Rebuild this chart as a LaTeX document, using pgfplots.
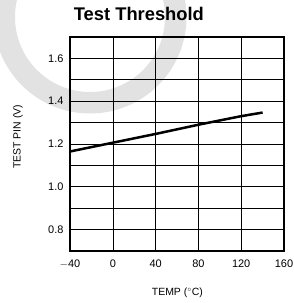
\documentclass[border=0pt]{standalone}
\usepackage{pgfplots}
\pgfplotsset{compat=1.18}
\usepackage{fontspec}
\setmainfont{Liberation Sans}
\begin{document}
\begin{tikzpicture}[x=1bp,y=1bp]
\path[use as bounding box] (0,0) rectangle (294,303);
% background watermark ring
\begin{scope}
\clip (0,0) rectangle (294,303);
\draw[color={rgb,255:red,226;green,226;blue,226}, line width=21.5bp] (90,286) circle[radius=85.75bp];
\end{scope}
\begin{axis}[
  at={(70bp,52bp)}, anchor=south west,
  scale only axis, width=214bp, height=214bp,
  xmin=-40, xmax=160, ymin=0.7, ymax=1.7,
  xtick={-40,0,40,120,160},
  extra x ticks={80},
  extra x tick style={grid style={color=black!35, line width=0.8bp}},
  ytick={0.8,1.0,1.2,1.4,1.6},
  yticklabels={0.8,1.0,1.2,1.4,1.6},
  minor ytick={0.7,0.9,1.1,1.3,1.5,1.7},
  grid=both,
  major grid style={black, line width=0.6bp},
  minor grid style={black, line width=0.6bp},
  major tick length=0pt, minor tick length=0pt,
  axis line style={black, line width=1.4bp},
  tick label style={font=\fontsize{11}{12}\selectfont},
  /pgf/number format/assume math mode=true,
  xticklabel style={yshift=-5.5bp},
  yticklabel style={xshift=-3bp},
  xticklabels={$-$40,0,40,120,160},
  title={Test Threshold},
  title style={font=\fontsize{18.4}{20}\selectfont\bfseries, at={(axis description cs:0.322,1.078)}, anchor=center},
  xlabel={TEMP ($^\circ$C)},
  xlabel style={font=\fontsize{10.5}{12}\selectfont, at={(axis description cs:0.502,-0.196)}, anchor=center},
  ylabel={TEST PIN (V)},
  every axis y label/.style={font=\fontsize{10.5}{12}\selectfont, at={(axis description cs:-0.243,0.533)}, anchor=center, rotate=90},
]
\addplot[black, line width=2.5bp] coordinates {
(-40,1.165) (0,1.206) (40,1.247) (80,1.290) (120,1.330) (140,1.347)
};
\end{axis}
\end{tikzpicture}
\end{document}
